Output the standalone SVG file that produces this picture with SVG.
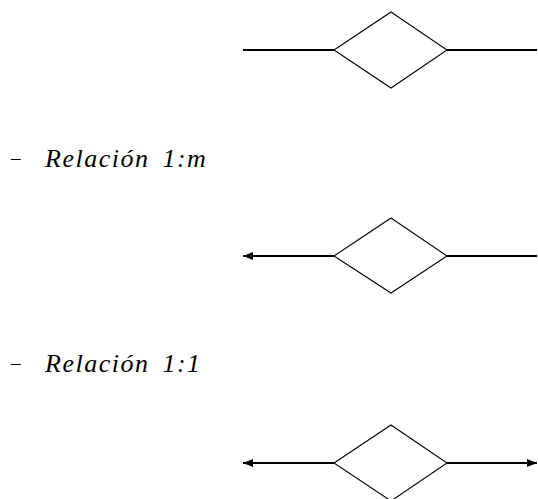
<svg xmlns="http://www.w3.org/2000/svg" width="538" height="499" viewBox="0 0 538 499">
<style>
.ln{stroke:#000;stroke-width:2;fill:none}
.dm{stroke:#000;stroke-width:1.1;fill:#fff}
.t{font-family:'Liberation Serif','Times New Roman',serif;font-style:italic;font-size:26px;letter-spacing:1.5px;word-spacing:5px;fill:#000}
.d{font-family:'Liberation Serif','Times New Roman',serif;font-size:19px;fill:#000}
</style>
<defs>
<marker id="ah" viewBox="0 0 10 8" refX="10" refY="4" markerWidth="10" markerHeight="8" markerUnits="userSpaceOnUse" orient="auto-start-reverse">
<path d="M0,0 L10,4 L0,8 Z" fill="#000"/>
</marker>
</defs>
<rect width="538" height="499" fill="#fff"/>
<g id="connectors">
<line class="ln" x1="243" y1="50" x2="334" y2="50"/>
<line class="ln" x1="447" y1="50" x2="537" y2="50"/>
<line class="ln" x1="243" y1="256" x2="334" y2="256" marker-start="url(#ah)"/>
<line class="ln" x1="447" y1="256" x2="537" y2="256"/>
<line class="ln" x1="243" y1="463" x2="334" y2="463" marker-start="url(#ah)"/>
<line class="ln" x1="447" y1="463" x2="537" y2="463" marker-end="url(#ah)"/>
</g>
<g id="rel1"><polygon class="dm" points="391,12 447,50 391,88 334,50"/></g>
<g id="label1"><text class="d" x="11" y="164">–</text><text class="t" x="45" y="167">Relación 1:m</text></g>
<g id="rel2"><polygon class="dm" points="391,218 447,256 391,293 334,256"/></g>
<g id="label2"><text class="d" x="11" y="369">–</text><text class="t" x="45" y="372">Relación 1:1</text></g>
<g id="rel3"><polygon class="dm" points="391,425 447,463 391,501 334,463"/></g>
</svg>
